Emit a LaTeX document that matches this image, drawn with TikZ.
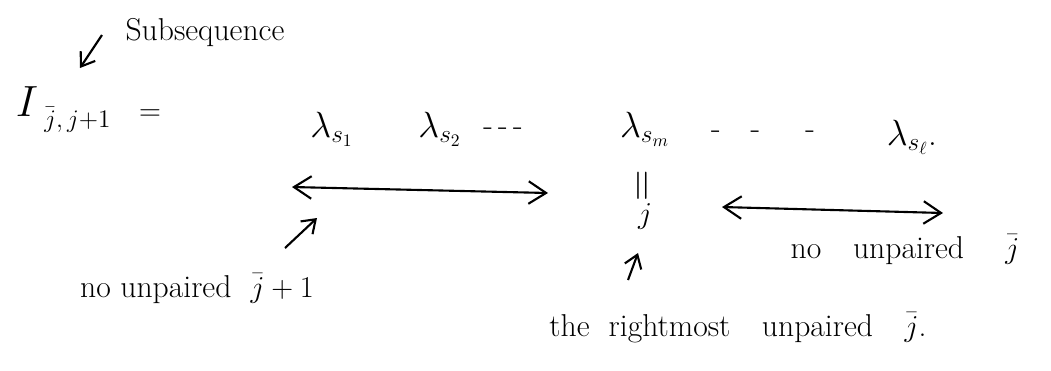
\documentclass[tikz,border=0pt]{standalone}
\usetikzlibrary{arrows.meta, positioning}
\usepackage{amsmath}
\usepackage{graphicx}

\begin{document}
\begin{tikzpicture}[x=0.02cm, y=-0.02cm, font=\fontsize{18}{22}\selectfont,
    pointer/.style={-{Straight Barb[length=2.5mm, width=3.5mm]}, line width=1.2pt},
    span/.style={{Straight Barb[length=3.5mm, width=4.5mm]}-{Straight Barb[length=3.5mm, width=4.5mm]}, line width=1.2pt}]
  \useasboundingbox (0,0) rectangle (1051,370);

  \node (sub) at (205,33) {Subsequence};
  \node (lhs) at (27,102) {\fontsize{44}{50}\selectfont$I$};
  \node[anchor=west, inner sep=0pt, font=\fontsize{14}{16}\selectfont] (lhsidx) at (44,120) {$\bar{j},j{+}1$};
  \node (eq) at (150,115) {$=$};

  \node[anchor=base, font=\fontsize{20}{24}\selectfont] (l1) at (332,137) {$\lambda_{s_1}$};
  \node[anchor=base, font=\fontsize{20}{24}\selectfont] (l2) at (440,137) {$\lambda_{s_2}$};
  \node (dots1) at (503,132) {-\,-\,-};
  \node[anchor=base, font=\fontsize{20}{24}\selectfont] (lm) at (645,137) {$\lambda_{s_m}$};
  \node (dots2) at (763,135) {-\hspace{0.6cm}-\hspace{0.9cm}-};
  \node[anchor=base, font=\fontsize{20}{24}\selectfont] (ll) at (912,145) {$\lambda_{s_\ell}$.};

  \node[font=\fontsize{26}{30}\selectfont] (veq) at (645,186) {\rotatebox{90}{$=$}};
  \node[below=-6pt of veq] (jm) {$j$};

  \node[anchor=base] (nolow) at (197,297) {no\ unpaired\ \ $\bar{j}+1$};
  \node[anchor=base] (nohigh) at (905,258) {no\quad unpaired\quad\ $\bar{j}$};
  \node[anchor=base] (rmost) at (738,336) {the\ \ rightmost\quad unpaired\quad $\bar{j}$.};

  \coordinate (subtail) at (102,35);
  \coordinate (subhead) at (80,68);
  \coordinate (leftA) at (292,187);
  \coordinate (leftB) at (548,193);
  \coordinate (rightA) at (722,207);
  \coordinate (rightB) at (943,213);
  \coordinate (lowtail) at (285,248);
  \coordinate (lowhead) at (317,218);
  \coordinate (jtail) at (628,280);
  \coordinate (jhead) at (638,253);

  \draw[pointer] (subtail) -- (subhead);
  \draw[span] (leftA) -- (leftB);
  \draw[span] (rightA) -- (rightB);
  \draw[pointer] (lowtail) -- (lowhead);
  \draw[pointer] (jtail) -- (jhead);
\end{tikzpicture}
\end{document}
